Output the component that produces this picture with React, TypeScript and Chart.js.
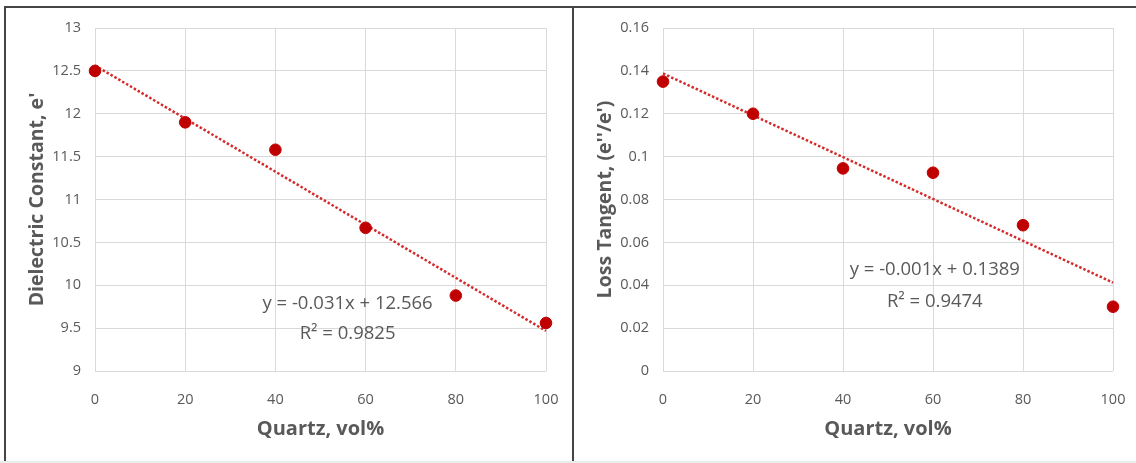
import React, { useEffect, useRef } from "react";
import { Chart, registerables } from "chart.js";

Chart.register(...registerables);

const quartzVol = [0, 20, 40, 60, 80, 100];
const dielectricConstant = [12.5, 11.9, 11.58, 10.67, 9.88, 9.56];
const lossTangent = [0.135, 0.12, 0.0945, 0.0925, 0.068, 0.03];

const xTicks = [0, 20, 40, 60, 80, 100];
const dielectricTicks = [9, 9.5, 10, 10.5, 11, 11.5, 12, 12.5, 13];
const lossTicks = [0, 0.02, 0.04, 0.06, 0.08, 0.1, 0.12, 0.14, 0.16];

const dielectricFitText = ["y = -0.031x + 12.566", "R² = 0.9825"];
const lossFitText = ["y = -0.001x + 0.1389", "R² = 0.9474"];
// anchor of the equation labels, in data units [x, yLine1, yLine2]
const dielectricFitTextPos = [56, 9.79, 9.44];
const lossFitTextPos = [60.4, 0.0471, 0.0322];

const FONT = "'Open Sans', 'Noto Sans', sans-serif";
const TEXT = "#595959";
const GRID = "#d9d9d9";
const RED = "#c00000";

function linearFit(xs: number[], ys: number[]) {
  const n = xs.length;
  const mx = xs.reduce((a, b) => a + b, 0) / n;
  const my = ys.reduce((a, b) => a + b, 0) / n;
  let sxy = 0;
  let sxx = 0;
  for (let i = 0; i < n; i++) {
    sxy += (xs[i] - mx) * (ys[i] - my);
    sxx += (xs[i] - mx) * (xs[i] - mx);
  }
  const slope = sxy / sxx;
  return { slope, intercept: my - slope * mx };
}

const fmt = (v: any) => String(+Number(v).toFixed(3));

function makeChart(
  canvas: HTMLCanvasElement,
  ys: number[],
  yTicks: number[],
  yTitle: string,
  fitText: string[],
  fitPos: number[],
  rightPad: number
) {
  const fit = linearFit(quartzVol, ys);
  const x0 = quartzVol[0];
  const x1 = quartzVol[quartzVol.length - 1];
  const trend = [
    { x: x0, y: fit.intercept + fit.slope * x0 },
    { x: x1, y: fit.intercept + fit.slope * x1 },
  ];
  const textPlugin = {
    id: "fitText",
    afterDatasetsDraw(chart: any) {
      const { ctx, scales } = chart;
      ctx.save();
      ctx.font = `18.5px ${FONT}`;
      ctx.fillStyle = TEXT;
      ctx.textAlign = "center";
      ctx.textBaseline = "middle";
      const px = scales.x.getPixelForValue(fitPos[0]);
      ctx.fillText(fitText[0], px, scales.y.getPixelForValue(fitPos[1]));
      ctx.fillText(fitText[1], px, scales.y.getPixelForValue(fitPos[2]));
      ctx.restore();
    },
  };
  return new Chart(canvas, {
    type: "scatter",
    data: {
      datasets: [
        {
          type: "line",
          data: trend,
          borderColor: "#d42a2a",
          borderWidth: 2.5,
          borderDash: [2.5, 2],
          pointRadius: 0,
          fill: false,
          order: 2,
        } as any,
        {
          data: quartzVol.map((x, i) => ({ x, y: ys[i] })),
          backgroundColor: RED,
          borderColor: RED,
          pointRadius: 5.8,
          pointHoverRadius: 5.8,
          order: 1,
        },
      ],
    },
    options: {
      animation: false,
      responsive: false,
      devicePixelRatio: 1,
      clip: false as any,
      events: [],
      layout: {
        autoPadding: false,
        padding: { top: 20, right: rightPad, left: 0, bottom: 0 },
      },
      plugins: { legend: { display: false }, tooltip: { enabled: false } },
      scales: {
        x: {
          type: "linear",
          min: 0,
          max: 100,
          afterBuildTicks: (s: any) => {
            s.ticks = xTicks.map((v) => ({ value: v }));
          },
          afterFit: (s: any) => {
            s.height = 92;
            s.paddingLeft = 0;
            s.paddingRight = 0;
          },
          grid: { color: GRID, lineWidth: 1, drawTicks: false },
          border: { display: false },
          ticks: {
            color: TEXT,
            font: { family: FONT, size: 14.5 },
            padding: 20,
            callback: fmt,
          },
          title: {
            display: true,
            text: "Quartz, vol%",
            color: TEXT,
            font: { family: FONT, size: 20, weight: "bold" },
            padding: { top: 0, bottom: 22 },
          },
        },
        y: {
          type: "linear",
          min: yTicks[0],
          max: yTicks[yTicks.length - 1],
          afterBuildTicks: (s: any) => {
            s.ticks = yTicks.map((v) => ({ value: v }));
          },
          afterFit: (s: any) => {
            s.width = 89;
            s.paddingTop = 0;
            s.paddingBottom = 0;
          },
          grid: { color: GRID, lineWidth: 1, drawTicks: false },
          border: { display: false },
          ticks: {
            color: TEXT,
            font: { family: FONT, size: 14.5 },
            padding: 14,
            callback: fmt,
          },
          title: {
            display: true,
            text: yTitle,
            color: TEXT,
            font: { family: FONT, size: 19.5, weight: "bold" },
            padding: { top: 20, bottom: 0 },
          },
        },
      },
    },
    plugins: [textPlugin],
  });
}

export default function App() {
  const leftRef = useRef<HTMLCanvasElement>(null);
  const rightRef = useRef<HTMLCanvasElement>(null);
  useEffect(() => {
    const a = makeChart(
      leftRef.current!,
      dielectricConstant,
      dielectricTicks,
      "Dielectric Constant, e'",
      dielectricFitText,
      dielectricFitTextPos,
      26
    );
    const b = makeChart(
      rightRef.current!,
      lossTangent,
      lossTicks,
      "Loss Tangent, (e''/e')",
      lossFitText,
      lossFitTextPos,
      23
    );
    return () => {
      a.destroy();
      b.destroy();
    };
  }, []);
  const line = "#454545";
  return (
    <div
      style={{
        position: "absolute",
        left: 0,
        top: 0,
        width: 1136,
        height: 463,
        background: "#fff",
        overflow: "hidden",
      }}
    >
      <div style={{ position: "absolute", left: 4, top: 6, width: 1132, height: 2, background: line }} />
      <div style={{ position: "absolute", left: 4, top: 6, width: 2, height: 457, background: line }} />
      <div style={{ position: "absolute", left: 572, top: 6, width: 2, height: 457, background: line }} />
      <div style={{ position: "absolute", left: 0, top: 461, width: 1136, height: 2, background: "#ececec" }} />
      <canvas
        ref={leftRef}
        width={566}
        height={455}
        style={{ position: "absolute", left: 6, top: 8, width: 566, height: 455 }}
      />
      <canvas
        ref={rightRef}
        width={562}
        height={455}
        style={{ position: "absolute", left: 574, top: 8, width: 562, height: 455 }}
      />
    </div>
  );
}
